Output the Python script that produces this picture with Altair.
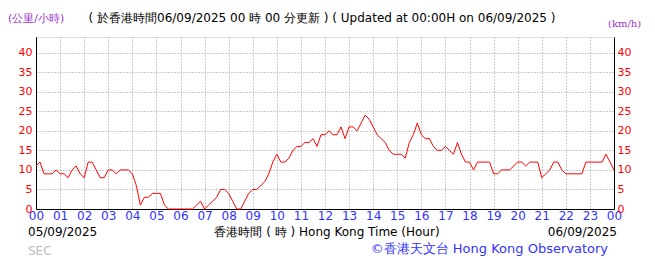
import altair as alt
import pandas as pd

# wind speed (km/h) every 10 minutes, 05/09/2025 00:00 -> 06/09/2025 00:00
speed = [
    11, 12, 9, 9, 9, 10,      # 00
    9, 9, 8, 10, 11, 9,       # 01
    8, 12, 12, 10, 8, 8,      # 02
    10, 10, 9, 10, 10, 10,    # 03
    9, 6, 1, 3, 3, 4,         # 04
    4, 4, 1, 0, 0, 0,         # 05
    0, 0, 0, 0, 1, 2,         # 06
    0, 1, 2, 3, 5, 5,         # 07
    4, 2, 0, 0, 2, 4,         # 08
    5, 5, 6, 7, 9, 12,        # 09
    14, 12, 12, 13, 15, 16,   # 10
    16, 17, 17, 18, 16, 19,   # 11
    19, 20, 19, 19, 21, 18,   # 12
    21, 21, 20, 22, 24, 23,   # 13
    21, 19, 18, 17, 15, 14,   # 14
    14, 14, 13, 17, 19, 22,   # 15
    19, 18, 18, 16, 15, 15,   # 16
    16, 15, 14, 17, 14, 12,   # 17
    12, 10, 12, 12, 12, 12,   # 18
    9, 9, 10, 10, 10, 11,     # 19
    12, 12, 11, 12, 12, 12,   # 20
    8, 9, 10, 12, 12, 10,     # 21
    9, 9, 9, 9, 9, 12,        # 22
    12, 12, 12, 12, 14, 12,   # 23
    10,                       # 00
]
step_minutes = 10
y_ticks = [0, 5, 10, 15, 20, 25, 30, 35, 40]
x_ticks = list(range(0, 25))

title_text = "( 於香港時間06/09/2025 00 時 00 分更新 ) ( Updated at 00:00H on 06/09/2025 )"
unit_left = "(公里/小時)"
unit_right = "(km/h)"
date_start = "05/09/2025"
date_end = "06/09/2025"
x_title = "香港時間 ( 時 ) Hong Kong Time (Hour)"
credit = "©香港天文台 Hong Kong Observatory"
station = "SEC"

df = pd.DataFrame({
    "hour": [i * step_minutes / 60 for i in range(len(speed))],
    "speed": speed,
})

W, H = 578, 172
FONT = "DejaVu Sans"
RED = "#ff0000"
BLUE = "#3333ff"
PURPLE = "#9933cc"

label_expr = "(datum.value % 24) < 10 ? '0' + (datum.value % 24) : '' + (datum.value % 24)"

xscale = alt.Scale(domain=[0, 24], nice=False, zero=False)
x_enc = alt.X(
    "hour:Q",
    scale=xscale,
    axis=alt.Axis(
        values=x_ticks, labelExpr=label_expr, title=None, ticks=False,
        labelColor=BLUE, labelFontSize=12, labelFont=FONT, labelPadding=1,
        labelFlush=False, labelOverlap=False,
        grid=True, gridColor="#999999", gridDash=[1, 2], gridWidth=1,
        domainColor="#000000", domainWidth=1,
    ),
)

ydom = alt.Scale(domain=[0, 44], nice=False)

line = alt.Chart(df).mark_line(color=RED, strokeWidth=1, interpolate="linear").encode(
    x=x_enc,
    y=alt.Y(
        "speed:Q", scale=ydom,
        axis=alt.Axis(
            values=y_ticks, title=None, ticks=False, orient="left",
            labelColor=RED, labelFontSize=11, labelFont=FONT, labelPadding=4,
            grid=True, gridColor="#999999", gridDash=[1, 2], gridWidth=1,
            domainColor="#000000",
        ),
    ),
)

right = alt.Chart(df).mark_line(opacity=0).encode(
    x=x_enc,
    y=alt.Y(
        "speed:Q", scale=ydom,
        axis=alt.Axis(
            values=y_ticks, title=None, ticks=False, orient="right", grid=False,
            labelColor=RED, labelFontSize=11, labelFont=FONT, labelPadding=3,
            domainColor="#000000",
        ),
    ),
)


def txt(text, x, y, size=12, color="#000000", align="left", font=FONT):
    return alt.Chart(df.head(1)).mark_text(
        text=text, align=align, baseline="middle", fontSize=size, color=color, font=font
    ).encode(x=alt.value(x), y=alt.value(y))


ox, oy = 36, 37
texts = [
    txt(unit_left, 8 - ox, 19 - oy, size=11, color=PURPLE),
    txt(title_text, 322 - ox, 18 - oy, size=12, align="center"),
    txt(unit_right, 608 - ox, 24 - oy, size=10, color=PURPLE, font="DejaVu Serif"),
    txt(date_start, 28 - ox, 232 - oy, size=12),
    txt(x_title, 327 - ox, 232 - oy, size=12, align="center"),
    txt(date_end, 617 - ox, 232 - oy, size=12, align="right"),
    txt(station, 28 - ox, 251 - oy, size=12, color="#bbbbbb"),
    txt(credit, 608 - ox, 249 - oy, size=13, color=BLUE, align="right"),
]

chart = alt.layer(line, right, *texts).resolve_scale(y="independent").properties(
    width=W, height=H,
    autosize=alt.AutoSizeParams(type="none"),
    padding={"left": ox, "top": oy, "right": 655 - ox - W, "bottom": 259 - oy - H},
).configure_view(stroke=None).configure(background="#ffffff")

chart.save("out.html", embed_options={"renderer": "svg", "actions": False})
